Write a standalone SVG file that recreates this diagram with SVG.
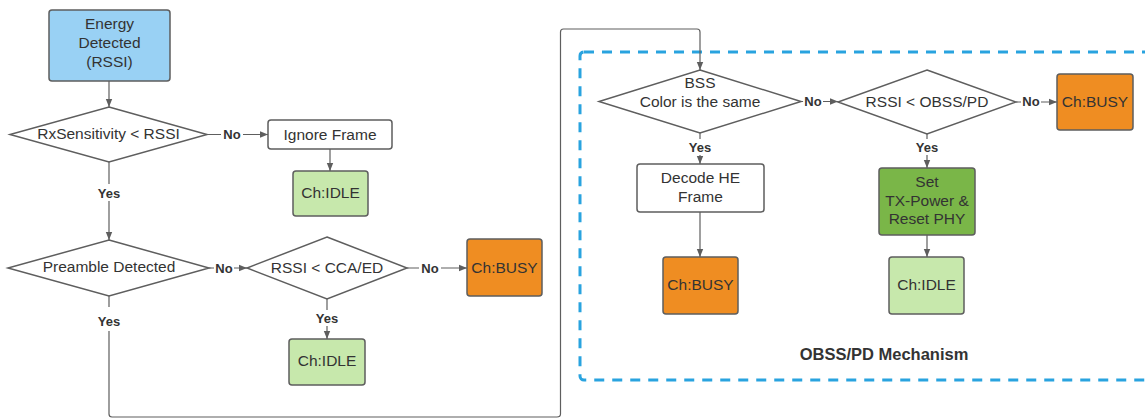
<svg xmlns="http://www.w3.org/2000/svg" width="1145" height="418" viewBox="0 0 1145 418">
<defs>
<marker id="arr" markerWidth="8" markerHeight="8" refX="8" refY="4" orient="auto" markerUnits="userSpaceOnUse">
<path d="M0,0.8 L8,4 L0,7.2 Z" fill="#5e5e5e"/>
</marker>
<style>
.box{stroke:#5e5e5e;stroke-width:1.5}
.dia{fill:#fff;stroke:#5e5e5e;stroke-width:1.5}
.t{font-family:"Liberation Sans",Arial,sans-serif;font-size:15.5px;fill:#333;text-anchor:middle}
.lbl{font-family:"Liberation Sans",Arial,sans-serif;font-size:13px;font-weight:bold;fill:#333;text-anchor:middle}
.c{fill:none;stroke:#5e5e5e;stroke-width:1.2}
.lb{fill:#fff}
.blue{fill:#99d1f4}.white{fill:#fff}.lgreen{fill:#c7e8ac}.dgreen{fill:#7ab648}.orange{fill:#ef8d22}
</style>
</defs>
<rect width="1145" height="418" fill="#fff"/>

<g id="obss-container">
<rect x="580" y="52" width="590" height="328" rx="4" fill="none" stroke="#29a3df" stroke-width="3" stroke-dasharray="10 8"/>
<text x="884" y="360" class="lbl" style="font-size:16.5px">OBSS/PD Mechanism</text>
</g>

<g id="connectors">
<path class="c" d="M109,81 V107" marker-end="url(#arr)"/>
<path class="c" d="M207,134.5 H268" marker-end="url(#arr)"/>
<path class="c" d="M330,149 V171" marker-end="url(#arr)"/>
<path class="c" d="M109,162 V240" marker-end="url(#arr)"/>
<path class="c" d="M209,268 H247" marker-end="url(#arr)"/>
<path class="c" d="M407,268 H467" marker-end="url(#arr)"/>
<path class="c" d="M327,299 V339" marker-end="url(#arr)"/>
<path class="c" d="M109,296 V414 Q109,417 112,417 H557 Q560.5,417 560.5,414 V32 Q560.5,29 563.5,29 H697 Q700,29 700,32 V70" marker-end="url(#arr)"/>
<path class="c" d="M801,101.5 H838" marker-end="url(#arr)"/>
<path class="c" d="M1016,102 H1057" marker-end="url(#arr)"/>
<path class="c" d="M700,133 V164" marker-end="url(#arr)"/>
<path class="c" d="M927,134 V168" marker-end="url(#arr)"/>
<path class="c" d="M700,212 V257" marker-end="url(#arr)"/>
<path class="c" d="M927,235 V257" marker-end="url(#arr)"/>

<rect class="lb" x="221" y="127" width="22" height="15"/><text class="lbl" x="232" y="139">No</text>
<rect class="lb" x="96" y="184" width="26" height="17"/><text class="lbl" x="109" y="197.5">Yes</text>
<rect class="lb" x="214" y="261" width="20" height="14"/><text class="lbl" x="224" y="272.5">No</text>
<rect class="lb" x="419" y="261" width="22" height="14"/><text class="lbl" x="430" y="272.5">No</text>
<rect class="lb" x="314" y="310" width="26" height="16"/><text class="lbl" x="327" y="322.5">Yes</text>
<rect class="lb" x="96" y="307" width="26" height="24"/><text class="lbl" x="109" y="325.5">Yes</text>
<rect class="lb" x="803" y="95" width="20" height="14"/><text class="lbl" x="813" y="105.5">No</text>
<rect class="lb" x="1021" y="95" width="20" height="14"/><text class="lbl" x="1031" y="106">No</text>
<rect class="lb" x="687" y="139" width="26" height="16"/><text class="lbl" x="700" y="151.5">Yes</text>
<rect class="lb" x="914" y="139" width="26" height="16"/><text class="lbl" x="927" y="151.5">Yes</text>
</g>

<g id="energy-detected">
<rect class="box blue" x="49" y="10" width="121" height="71" rx="3"/>
<text class="t" x="109.5" y="28.5">Energy</text>
<text class="t" x="109.5" y="47.5">Detected</text>
<text class="t" x="109.5" y="67">(RSSI)</text>
</g>

<g id="rx-sensitivity">
<polygon class="dia" points="109,107 207,134.5 109,162 10,134.5"/>
<text class="t" x="108.5" y="139">RxSensitivity &lt; RSSI</text>
</g>

<g id="ignore-frame">
<rect class="box white" x="268" y="120" width="124" height="29" rx="3"/>
<text class="t" x="330" y="140">Ignore Frame</text>
</g>

<g id="idle-1">
<rect class="box lgreen" x="293" y="171" width="75" height="45" rx="3"/>
<text class="t" x="330.5" y="198">Ch:IDLE</text>
</g>

<g id="preamble-detected">
<polygon class="dia" points="109,240 209,268 109,296 8,268"/>
<text class="t" x="109" y="272">Preamble Detected</text>
</g>

<g id="rssi-cca">
<polygon class="dia" points="327,237 407,268 327,299 247,268"/>
<text class="t" x="327" y="272.5">RSSI &lt; CCA/ED</text>
</g>

<g id="busy-1">
<rect class="box orange" x="467" y="239" width="75" height="57" rx="3"/>
<text class="t" x="504.5" y="272.5">Ch:BUSY</text>
</g>

<g id="idle-2">
<rect class="box lgreen" x="289" y="339" width="76" height="46" rx="3"/>
<text class="t" x="327" y="365.5">Ch:IDLE</text>
</g>

<g id="bss-color">
<polygon class="dia" points="700,70 801,101.5 700,133 599,101.5"/>
<text class="t" x="700" y="87.5">BSS</text>
<text class="t" x="700" y="106.5">Color is the same</text>
</g>

<g id="rssi-obss">
<polygon class="dia" points="927,70 1016,102 927,134 838,102"/>
<text class="t" x="927" y="106.5">RSSI &lt; OBSS/PD</text>
</g>

<g id="busy-2">
<rect class="box orange" x="1057" y="74" width="76" height="56" rx="3"/>
<text class="t" x="1095" y="106.5">Ch:BUSY</text>
</g>

<g id="decode-he">
<rect class="box white" x="637" y="164" width="127" height="48" rx="3"/>
<text class="t" x="700.5" y="182.5">Decode HE</text>
<text class="t" x="700.5" y="201.5">Frame</text>
</g>

<g id="set-tx-power">
<rect class="box dgreen" x="879" y="168" width="96" height="67" rx="3"/>
<text class="t" x="927" y="186.5">Set</text>
<text class="t" x="927" y="205.5">TX-Power &amp;</text>
<text class="t" x="927" y="224">Reset PHY</text>
</g>

<g id="busy-3">
<rect class="box orange" x="663" y="257" width="75" height="57" rx="3"/>
<text class="t" x="700.5" y="289.5">Ch:BUSY</text>
</g>

<g id="idle-3">
<rect class="box lgreen" x="889" y="257" width="75" height="57" rx="3"/>
<text class="t" x="926.5" y="289.5">Ch:IDLE</text>
</g>
</svg>
